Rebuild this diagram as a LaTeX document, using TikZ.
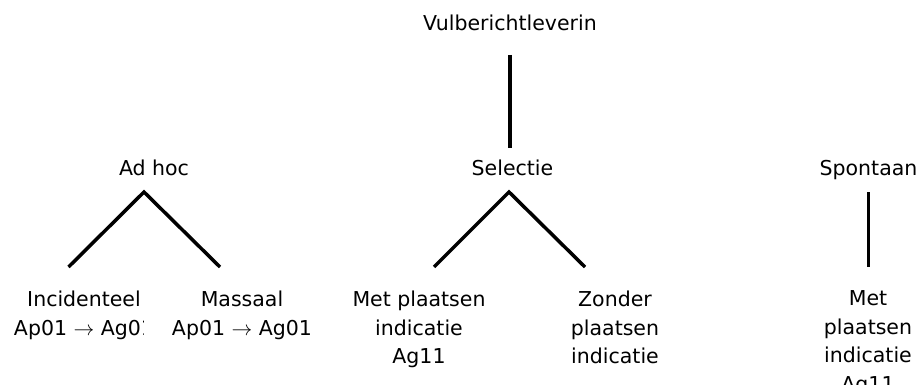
\documentclass[tikz,border=0pt]{standalone}
\usepackage{fontspec}
\setmainfont{DejaVu Sans}

\begin{document}
\begin{tikzpicture}[x=1pt,y=-1pt,
  every node/.style={font=\fontsize{20.5}{28.5}\selectfont,inner sep=0pt},
  top/.style={text height=15pt,text depth=0pt,outer ysep=24pt},
  mid/.style={text height=15pt,text depth=0pt,outer ysep=17pt,anchor=base},
  leaf/.style={align=center,outer ysep=24pt,anchor=north},
  branch/.style={line width=3.5pt}]
  \useasboundingbox (0,0) rectangle (923,385);
  \node[top,anchor=base west] (root) at (423,31) {Vulberichtleverin};
  \node[mid] (adhoc) at (154,175) {Ad hoc};
  \node[mid] (sel) at (512.5,175) {Selectie};
  \node[mid] (spont) at (868.5,175) {Spontaan};
  \node[leaf] (incid) at (84,267) {Incidenteel\\Ap01 $\rightarrow$ Ag01};
  \node[leaf,fill=white,inner xsep=28pt] (mass) at (242,267) {Massaal\\Ap01 $\rightarrow$ Ag01};
  \node[leaf] (metpl) at (419,267) {Met plaatsen\\indicatie\\Ag11};
  \node[leaf] (zonder) at (615,267) {Zonder\\plaatsen\\indicatie};
  \node[leaf] (spmet) at (868,267) {Met\\plaatsen\\indicatie\\Ag11};
  \draw[branch,shorten >=-5pt] (root.south) -- (root.south |- sel.north);
  \draw[branch] ([xshift=-15.5pt]incid.north) -- ([xshift=-10pt]adhoc.south) -- ([xshift=-22pt]mass.north);
  \draw[branch] ([xshift=15pt]metpl.north) -- ([xshift=-3.5pt]sel.south) -- ([xshift=-30pt]zonder.north);
  \draw[branch] (spont.south) -- (spont.south |- spmet.north);
\end{tikzpicture}
\end{document}
